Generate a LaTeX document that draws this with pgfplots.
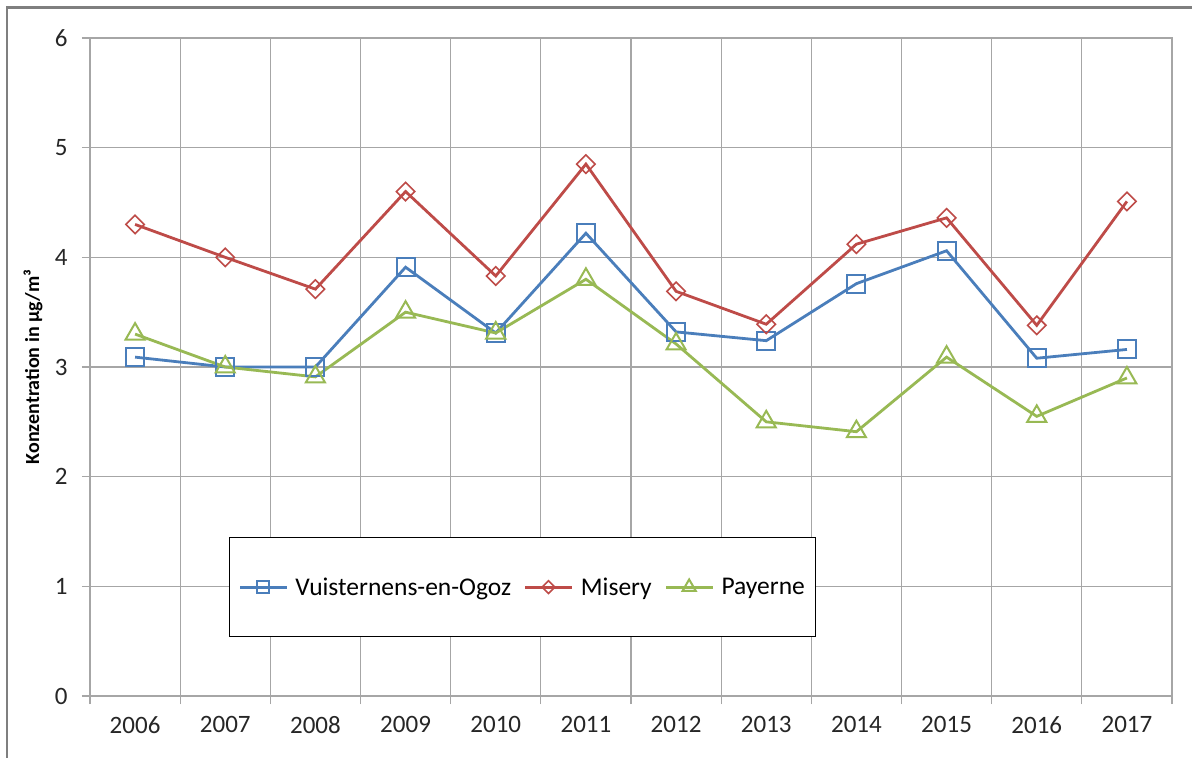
\documentclass[border=0pt]{standalone}
\usepackage{fontspec}
\setmainfont{Carlito}
\usepackage{pgfplots}
\pgfplotsset{compat=1.18}
\definecolor{cblue}{HTML}{4A7EBB}
\definecolor{cred}{HTML}{BE4B48}
\definecolor{cgreen}{HTML}{98B954}
\definecolor{cgrid}{HTML}{A6A6A6}
\definecolor{cframe}{HTML}{7F7F7F}
\begin{document}
\begin{tikzpicture}
\useasboundingbox (-90bp,-62bp) rectangle (1102bp,696bp);
\fill[white] (-90bp,-62bp) rectangle (1102bp,696bp);
\fill[cframe] (-84.2bp,-62bp) rectangle (-81.8bp,689.5bp);
\fill[cframe] (-84.2bp,686.5bp) rectangle (1102bp,689.5bp);
\begin{axis}[
  at={(0,0)}, anchor=south west, scale only axis,
  width=1082bp, height=658bp,
  xmin=-0.5, xmax=11.5, ymin=0, ymax=6,
  xtick={-0.5,0.5,...,11.5},
  x tick label as interval,
  xticklabels={2006,2007,2008,2009,2010,2011,2012,2013,2014,2015,2016,2017},
  ytick={0,1,2,3,4,5,6},
  xtick pos=bottom, ytick pos=left,
  /pgf/number format/assume math mode=true,
  grid=major,
  grid style={cgrid, line width=1.3bp},
  axis line style={cgrid, line width=1.3bp},
  tick style={cgrid, line width=1.3bp},
  tick align=outside,
  major tick length=8bp,
  ticklabel style={font=\fontsize{25bp}{30bp}\selectfont, text=black!85},
  xticklabel style={yshift=-9bp},
  yticklabel style={xshift=-11bp},
  ylabel={Konzentration in µg/m³},
  every axis y label/.style={at={(axis description cs:0,0.5)}, xshift=-57bp, rotate=90, anchor=center,
     font=\bfseries\fontsize{20bp}{24bp}\selectfont},
  legend columns=3,
  legend style={at={(0.1285,0.2416)}, anchor=north west, draw=black, line width=1.2bp,
    fill=white, inner xsep=9bp, inner ysep=38bp,
    font=\fontsize{25.5bp}{30bp}\selectfont,
    /tikz/every odd column/.append style={column sep=5bp},
    /tikz/every even column/.append style={column sep=11bp}},
  legend image code/.code={\draw[mark repeat=2, mark phase=2, #1, every mark/.append style={scale=0.7}]
     plot coordinates {(0bp,0bp) (23bp,0bp) (47bp,0bp)};},
]
\addplot[cblue, line width=2.8bp, mark=square, mark size=9bp, mark options={line width=2bp, solid}]
  coordinates {(0,3.09) (1,3.0) (2,3.0) (3,3.91) (4,3.31) (5,4.22) (6,3.32) (7,3.24) (8,3.76) (9,4.06) (10,3.08) (11,3.16)};
\addlegendentry{Vuisternens-en-Ogoz}
\addplot[cred, line width=2.8bp, mark=square, mark size=6.5bp, mark options={line width=1.6bp, solid, rotate=45}]
  coordinates {(0,4.30) (1,4.00) (2,3.71) (3,4.60) (4,3.83) (5,4.85) (6,3.69) (7,3.39) (8,4.12) (9,4.36) (10,3.38) (11,4.51)};
\addlegendentry{Misery}
\addplot[cgreen, line width=2.8bp, mark=triangle, mark size=11bp, mark options={line width=2bp, solid}]
  coordinates {(0,3.30) (1,3.00) (2,2.91) (3,3.50) (4,3.31) (5,3.80) (6,3.21) (7,2.50) (8,2.41) (9,3.09) (10,2.55) (11,2.90)};
\addlegendentry{Payerne}
\end{axis}
\end{tikzpicture}
\end{document}
